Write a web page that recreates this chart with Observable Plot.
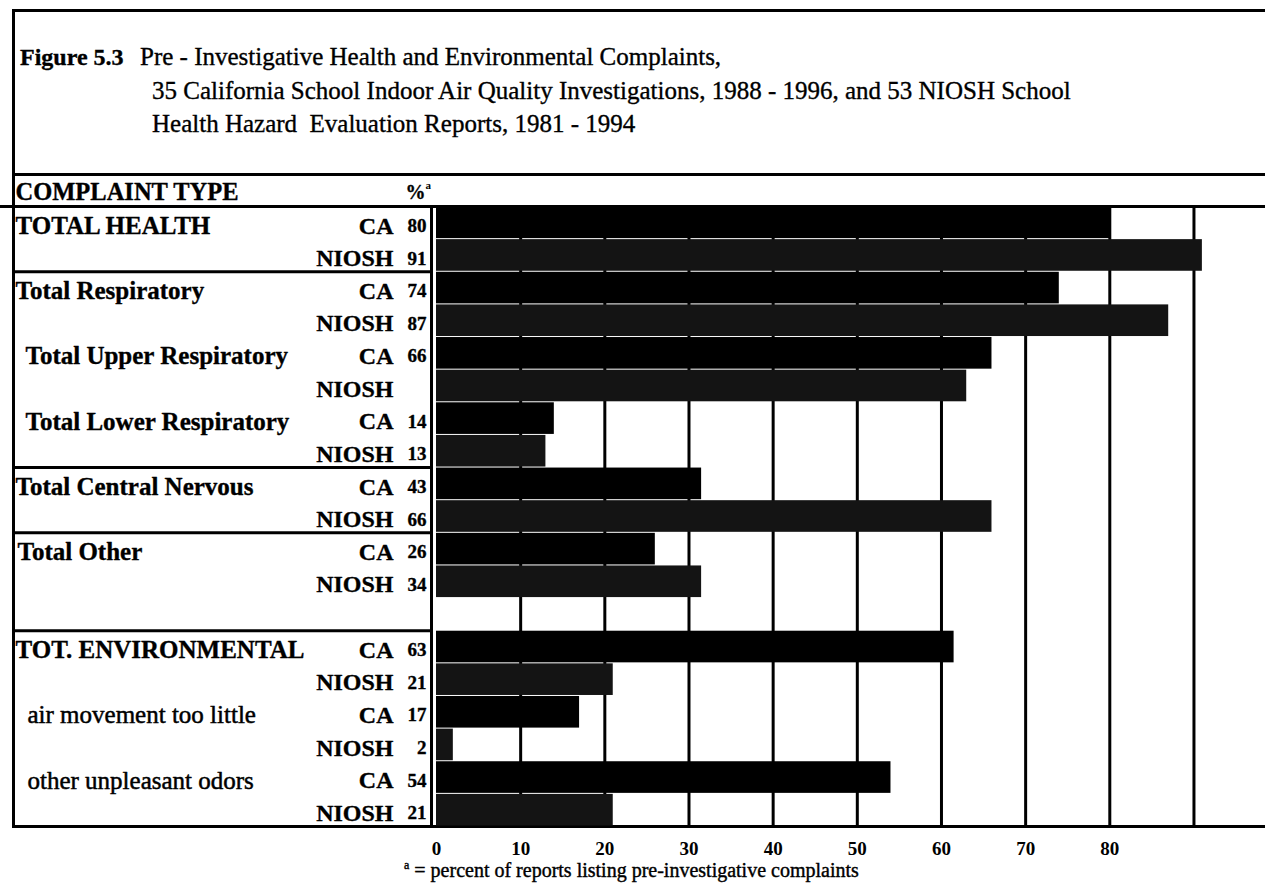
<!DOCTYPE html>
<html><head><meta charset="utf-8">
<script src="https://cdn.jsdelivr.net/npm/d3@7"></script>
<script src="https://cdn.jsdelivr.net/npm/@observablehq/plot@0.6"></script>
<style>
html,body{margin:0;padding:0;background:#fff;}
body{width:1265px;height:890px;position:relative;overflow:hidden;font-family:"Liberation Serif","Times New Roman",serif;color:#000;}
#frame{position:absolute;left:12px;top:9px;width:1253px;height:819px;box-sizing:border-box;border-left:3px solid #000;border-top:3px solid #000;border-bottom:3px solid #000;}
#title{position:absolute;left:0;top:0;right:0;height:164px;box-sizing:border-box;border-bottom:3px solid #000;font-size:25px;line-height:33px;padding-top:28px;padding-left:5px;white-space:nowrap;-webkit-text-stroke:0.35px #000;}
#title .fig{display:inline-block;width:120px;font-weight:bold;font-size:24px;}
#title .cont{padding-left:132px;}
#chart{position:absolute;left:0;top:176px;}
#note{position:absolute;left:404px;top:860px;font-size:20px;line-height:20px;white-space:nowrap;-webkit-text-stroke:0.4px #000;}
#note sup{font-size:12px;vertical-align:8px;line-height:0;}
g[aria-label="x-axis tick label"]{font-weight:bold;}
</style>
</head><body>
<div id="frame">
  <div id="title">
    <div><span class="fig">Figure 5.3</span>Pre - Investigative Health and Environmental Complaints,</div>
    <div class="cont">35 California School Indoor Air Quality Investigations, 1988 - 1996, and 53 NIOSH School</div>
    <div class="cont">Health Hazard&nbsp; Evaluation Reports, 1981 - 1994</div>
  </div>
</div>
<div id="chart"></div>
<div id="note"><sup>a</sup> = percent of reports listing pre-investigative complaints</div>
<script>
// ---- data ----
const complaintTypes = ["TOTAL HEALTH","Total Respiratory","Total Upper Respiratory","Total Lower Respiratory","Total Central Nervous","Total Other","TOT. ENVIRONMENTAL","air movement too little","other unpleasant odors"];
const boldType = [true,true,true,true,true,true,true,false,false];
const typeIndent = [15,15,25,25,15,17,15,27,27];
const seriesNames = ["CA","NIOSH"];
// printed percentages
const caLabels = ["80","74","66","14","43","26","63","17","54"];
const nioshLabels = ["91","87","","13","66","34","21","2","21"];
// bar lengths as drawn in the figure
const caValues = [80,74,66,14,31.5,26,61.5,17,54];
const nioshValues = [91,87,63,13,66,31.5,21,2,21];
const xTicks = [0,10,20,30,40,50,60,70,80];
const gridValues = [10,20,30,40,50,60,70,80,90];
// row layout: one blank row after "Total Other"
const caRow = complaintTypes.map((d,i)=> i*2 + (i>=6 ? 1 : 0));
const groupBreaks = [2,8,10,13];   // rows where a new boxed group begins

const W = 1265, H = 690;
const xDomain = [0, 98.5], xRange = [436, 1265];
const nRows = 19, yRange = [30, 650];
const xs = Plot.scale({x:{domain:xDomain, range:xRange}});
const colLeft = xs.invert(13), colRight = xs.invert(431);

const bars = [];
complaintTypes.forEach((t,i)=>{
  bars.push({type:t, series:seriesNames[0], row:caRow[i], value:caValues[i], label:caLabels[i]});
  bars.push({type:t, series:seriesNames[1], row:caRow[i]+1, value:nioshValues[i], label:nioshLabels[i]});
});
const typeRows = complaintTypes.map((t,i)=>({type:t, row:caRow[i], bold:boldType[i], xpos:xs.invert(typeIndent[i])}));

const txt = {textAnchor: "start", lineAnchor: "middle", stroke: "#000", strokeWidth: 0.35, fill: "#000"};

const chart = Plot.plot({
  width: W, height: H,
  marginLeft: 0, marginRight: 0, marginTop: 0, marginBottom: H - yRange[1],
  x: {domain: xDomain, range: xRange, axis: null},
  y: {domain: [0, nRows], range: yRange, axis: null},
  style: {fontFamily: "'Liberation Serif', 'Times New Roman', serif", background: "transparent", color: "#000", overflow: "visible"},
  marks: [
    Plot.ruleX(gridValues, {y1: 0, y2: nRows, stroke: "#000", strokeWidth: 3}),
    Plot.rect(bars, {x1: 0, x2: "value", y1: "row", y2: d => d.row + 1,
      fill: d => d.series === "CA" ? "#000" : "#141414", insetTop: 0.5, insetBottom: 0.5}),
    Plot.ruleY([0], {stroke: "#000", strokeWidth: 3}),
    Plot.ruleY(groupBreaks, {x1: colLeft, x2: colRight, stroke: "#000", strokeWidth: 3}),
    Plot.ruleX([colRight], {y1: 0, y2: nRows, stroke: "#000", strokeWidth: 3}),
    // header
    Plot.text(["COMPLAINT TYPE"], {...txt, frameAnchor: "top-left", dx: 15, dy: 16, text: d => d, fontSize: 24.5, fontWeight: "bold"}),
    Plot.text(["%"], {...txt, frameAnchor: "top-left", dx: 405, dy: 16, text: d => d, fontSize: 20, fontWeight: "bold"}),
    Plot.text(["a"], {...txt, frameAnchor: "top-left", dx: 425, dy: 9, text: d => d, fontSize: 11, fontWeight: "bold", strokeWidth: 0}),
    // complaint type labels
    Plot.text(typeRows.filter(d => d.bold), {...txt, x: "xpos", y: d => d.row + 0.5, dy: 3, text: "type", fontSize: 25, fontWeight: "bold"}),
    Plot.text(typeRows.filter(d => !d.bold), {...txt, x: "xpos", y: d => d.row + 0.5, dy: 3, text: "type", fontSize: 25, fontWeight: "normal", strokeWidth: 0.5}),
    // series labels
    Plot.text(bars, {...txt, frameAnchor: "left", y: d => d.row + 0.5, dx: 393, dy: 3, text: "series", textAnchor: "end", fontSize: 24, fontWeight: "bold"}),
    // value labels
    Plot.text(bars, {...txt, frameAnchor: "left", y: d => d.row + 0.5, dx: 426, dy: 3, text: "label", textAnchor: "end", fontSize: 19, fontWeight: "bold"}),
    Plot.axisX({ticks: xTicks, tickSize: 0, tickPadding: 15, fontSize: 19, fontWeight: "bold", label: null, stroke: "#000", strokeWidth: 0.3})
  ]
});
document.getElementById("chart").appendChild(chart);
</script>
</body></html>
